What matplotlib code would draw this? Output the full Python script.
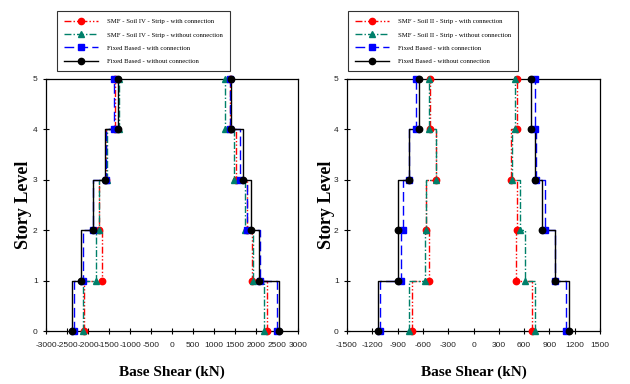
import matplotlib
matplotlib.use("Agg")
import matplotlib.pyplot as plt
from matplotlib.lines import Line2D

# ---------------- data (story levels 0..5, base shear in kN) ----------------
levels = [0, 1, 2, 3, 4, 5]

# Left panel (Soil IV)
L_red_neg   = [-2095, -1659, -1750, -1560, -1357, -1357]
L_red_pos   = [2270, 1897, 1778, 1532, 1381, 1381]
L_green_neg = [-2127, -1810, -1740, -1556, -1254, -1254]
L_green_pos = [2190, 1921, 1738, 1468, 1262, 1262]
L_blue_neg  = [-2333, -2111, -1873, -1580, -1381, -1381]
L_blue_pos  = [2492, 2095, 1778, 1627, 1381, 1381]
L_black_neg = [-2390, -2167, -1873, -1595, -1278, -1278]
L_black_pos = [2540, 2071, 1873, 1698, 1405, 1405]

# Right panel (Soil II)
R_red_neg   = [-735, -530, -561, -443, -514, -514]
R_red_pos   = [692, 506, 514, 445, 514, 514]
R_green_neg = [-767, -578, -561, -443, -530, -530]
R_green_pos = [735, 605, 546, 459, 494, 494]
R_blue_neg  = [-1105, -858, -838, -767, -680, -680]
R_blue_pos  = [1095, 961, 842, 747, 735, 735]
R_black_neg = [-1130, -897, -897, -767, -648, -648]
R_black_pos = [1130, 972, 815, 735, 676, 676]

left_labels = ["SMF - Soil IV - Strip - with connection",
               "SMF - Soil IV - Strip - without connection",
               "Fixed Based - with connection",
               "Fixed Based - without connection"]
right_labels = ["SMF - Soil II - Strip - with connection",
                "SMF - Soil II - Strip - without connection",
                "Fixed Based - with connection",
                "Fixed Based - without connection"]

left_xticks = [-3000, -2500, -2000, -1500, -1000, -500, 0, 500, 1000, 1500, 2000, 2500, 3000]
right_xticks = [-1500, -1200, -900, -600, -300, 0, 300, 600, 900, 1200, 1500]
yticks = [0, 1, 2, 3, 4, 5]

# ---------------- styles ----------------
styles = [
    dict(color="#ff0000", ls=(0, (5, 1.5, 1, 1.5, 1, 1.5)), marker="o"),
    dict(color="#00806a", ls=(0, (5, 1.5, 1, 1.5)), marker="^"),
    dict(color="#0000ff", ls=(0, (7, 3)), marker="s"),
    dict(color="#000000", ls="-", marker="o"),
]

def step_xy(vals, lev):
    xs, ys = [], []
    for i in range(len(lev) - 1):
        xs += [vals[i], vals[i]]
        ys += [lev[i], lev[i + 1]]
    xs.append(vals[-1]); ys.append(lev[-1])
    return xs, ys

fig = plt.figure(figsize=(6.3, 3.84), dpi=100)
ax1 = fig.add_axes([46/630, 1-331/384, 252/630, 252/384])
ax2 = fig.add_axes([347/630, 1-331/384, 253/630, 252/384])

tick_font = dict(family="Liberation Sans", size=6)

def draw(ax, series, xlim, xticks, labels, legbox):
    for st, (neg, pos) in zip(styles, series):
        for vals in (neg, pos):
            xs, ys = step_xy(vals, levels)
            ax.plot(xs, ys, color=st["color"], linestyle=st["ls"], lw=1.0, zorder=2,
                    clip_on=False)
            ax.plot(vals, levels, linestyle="none", marker=st["marker"], color=st["color"],
                    markersize=4.6, zorder=3, clip_on=False)
    ax.set_xlim(xlim)
    ax.set_ylim(0, 5)
    ax.set_xticks(xticks)
    ax.set_yticks(yticks)
    ax.set_xticklabels([str(t) for t in xticks], **tick_font, color="#222222")
    ax.set_yticklabels([str(t) for t in yticks], **tick_font, color="#222222")
    ax.tick_params(axis="x", direction="inout", length=4, width=0.8, pad=6)
    ax.tick_params(axis="y", direction="inout", length=4, width=0.8, pad=4)
    for s in ax.spines.values():
        s.set_linewidth(0.9)
    handles = [Line2D([0], [0], color=st["color"], linestyle=st["ls"], lw=1.0,
                      marker=st["marker"], markersize=4.5) for st in styles]
    leg = ax.legend(handles, labels, loc="upper left", bbox_to_anchor=legbox,
                    bbox_transform=fig.transFigure, frameon=True, fancybox=False,
                    prop=dict(family="Liberation Serif", size=4.9), handlelength=4.9,
                    labelspacing=1.1, borderpad=1.1, handletextpad=1.3, borderaxespad=0)
    leg.get_frame().set_edgecolor("black")
    leg.get_frame().set_linewidth(0.8)

draw(ax1, [(L_red_neg, L_red_pos), (L_green_neg, L_green_pos),
           (L_blue_neg, L_blue_pos), (L_black_neg, L_black_pos)],
     (-3000, 3000), left_xticks, left_labels, (57/630, 1-11/384))
draw(ax2, [(R_red_neg, R_red_pos), (R_green_neg, R_green_pos),
           (R_blue_neg, R_blue_pos), (R_black_neg, R_black_pos)],
     (-1500, 1500), right_xticks, right_labels, (348/630, 1-11/384))

lab_font = dict(family="Liberation Serif", weight="bold")
fig.text(172/630, 1-372/384, "Base Shear (kN)", ha="center", va="center", size=11, **lab_font)
fig.text(474/630, 1-372/384, "Base Shear (kN)", ha="center", va="center", size=11, **lab_font)
fig.text(24/630, 1-205/384, "Story Level", ha="center", va="center", rotation=90, size=13, **lab_font)
fig.text(326/630, 1-205/384, "Story Level", ha="center", va="center", rotation=90, size=13, **lab_font)

fig.savefig("out.png", dpi=100)
